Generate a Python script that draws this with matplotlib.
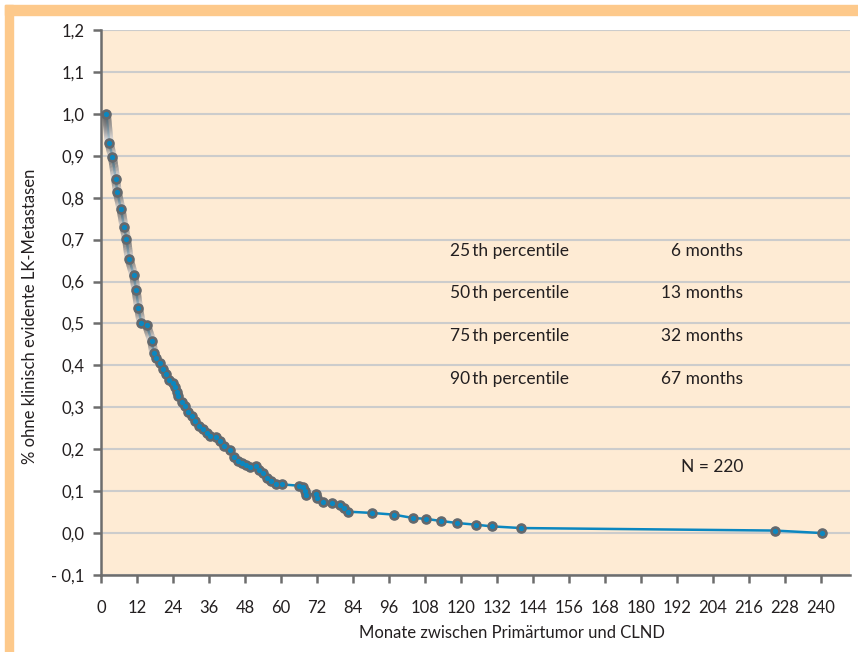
import matplotlib
matplotlib.use("Agg")
import matplotlib.pyplot as plt
from matplotlib.collections import LineCollection
from matplotlib.patches import Rectangle
from matplotlib.ticker import FuncFormatter, MultipleLocator
import numpy as np

# months between primary tumour and CLND, share without evident LK metastases
months = [1.8, 2.7, 3.8, 4.9, 5.4, 6.7, 7.7, 8.5, 9.4, 10.9, 11.7, 12.5, 13.4,
          15.2, 16.9, 17.6, 18.5, 19.6, 20.7, 21.6, 22.7, 24.1, 24.6, 25.2,
          25.7, 26.9, 28.0, 29.1, 30.2, 31.3, 32.7, 34.0, 35.4, 36.5, 38.5,
          39.6, 41.0, 42.9, 44.3, 45.7, 47.0, 48.5, 49.8, 51.6, 52.7, 54.0,
          55.4, 56.8, 58.5, 60.5, 66.0, 67.3, 67.9, 68.5, 71.6, 72.1, 74.0,
          77.1, 79.6, 81.0, 82.5, 90.4, 97.6, 104.0, 108.2, 113.2, 118.7,
          125.0, 130.3, 140.0, 224.6, 240.5]
share = [1.0, 0.931, 0.898, 0.845, 0.814, 0.772, 0.729, 0.702, 0.653, 0.616,
         0.579, 0.538, 0.501, 0.496, 0.459, 0.429, 0.417, 0.405, 0.391, 0.379,
         0.366, 0.358, 0.348, 0.337, 0.326, 0.313, 0.302, 0.290, 0.279, 0.268,
         0.256, 0.248, 0.239, 0.231, 0.229, 0.219, 0.207, 0.197, 0.181, 0.173,
         0.167, 0.163, 0.157, 0.161, 0.151, 0.144, 0.131, 0.125, 0.117, 0.116,
         0.113, 0.110, 0.101, 0.091, 0.094, 0.083, 0.075, 0.072, 0.067, 0.060,
         0.051, 0.048, 0.044, 0.036, 0.034, 0.029, 0.024, 0.020, 0.016, 0.012,
         0.006, 0.0]

pct_labels = ["25\u2009th percentile", "50\u2009th percentile",
              "75\u2009th percentile", "90\u2009th percentile"]
pct_values = ["6 months", "13 months", "32 months", "67 months"]
n_label = "N = 220"

plt.rcParams['font.family'] = ['Lato', 'DejaVu Sans']
text_col = '#231f20'
orange = '#fdc98b'
blue = '#0b87c0'
grey = '#64686c'

fig = plt.figure(figsize=(8.58, 6.52), dpi=100)
fig.patches.append(Rectangle((5/858, 1-15/652), 1, 10/652, transform=fig.transFigure,
                             color=orange, zorder=0))
fig.patches.append(Rectangle((5/858, 0), 8/858, 1-5/652, transform=fig.transFigure,
                             color=orange, zorder=0))

ax = fig.add_axes([101/858, 1-575/652, 749/858, 545/652])
ax.set_facecolor('#feebd4')
ax.set_xlim(0, 249.7)
ax.set_ylim(-0.1, 1.2)

ax.xaxis.set_major_locator(MultipleLocator(12))
ax.yaxis.set_major_locator(MultipleLocator(0.1))

def fmt_y(v, pos):
    s = f"{abs(v):.1f}".replace('.', ',')
    return ("- " + s) if v < -1e-9 else s

ax.yaxis.set_major_formatter(FuncFormatter(fmt_y))
ax.grid(axis='y', color='#cccccc', linewidth=1.5, zorder=0)
ax.set_axisbelow(True)

for sp in ['top', 'right']:
    ax.spines[sp].set_visible(False)
for sp in ['left', 'bottom']:
    ax.spines[sp].set_color('#6d6d6d')
    ax.spines[sp].set_linewidth(1.8)
ax.tick_params(axis='both', direction='out', length=6, width=1.8, color='#6d6d6d',
               labelsize=12, labelcolor=text_col, pad=6)
ax.tick_params(axis='x', pad=12)

# blue connecting line
ax.plot(months, share, color=blue, linewidth=1.8, zorder=3)

# fading grey trails on the steep part
x = np.array(months)
y = np.array(share)
segs = []
cols = []
for i in range(len(x) - 1):
    dxp = (x[i+1] - x[i]) * 3.0
    dyp = (y[i] - y[i+1]) * 420
    if dyp > 2 * dxp and dyp > 6:
        t = np.linspace(0, 1, 30)
        xs = x[i] + (x[i+1] - x[i]) * t
        ys = y[i] + (y[i+1] - y[i]) * t
        for k in range(len(t) - 1):
            segs.append([(xs[k], ys[k]), (xs[k+1], ys[k+1])])
            c = 0.38 + 0.58 * t[k] ** 1.6
            cols.append((c, c, c + 0.01, 1.0))
lc = LineCollection(segs, colors=cols, linewidths=6.4, capstyle='butt', zorder=4)
ax.add_collection(lc)

ax.plot(months, share, linestyle='none', marker='o', markersize=6.6,
        markerfacecolor=grey, markeredgecolor=grey, zorder=5)
ax.plot(months, share, linestyle='none', marker='o', markersize=2.7,
        markerfacecolor=blue, markeredgecolor=blue, zorder=6)

rows_y = [0.672, 0.572, 0.470, 0.368]
for lab, val, yy in zip(pct_labels, pct_values, rows_y):
    ax.text(136.3, yy, lab, ha='center', va='center', fontsize=12.5, color=text_col)
    ax.text(214.0, yy, val, ha='right', va='center', fontsize=12.5, color=text_col)
ax.text(214.0, 0.158, n_label, ha='right', va='center', fontsize=12.5, color=text_col)

fig.text(665/858, 1-633/652, "Monate zwischen Primärtumor und CLND",
         ha='right', va='center', fontsize=12, color=text_col)
fig.text(30/858, 1-316/652, "% ohne klinisch evidente LK-Metastasen",
         ha='center', va='center', rotation=90, fontsize=12, color=text_col)

fig.savefig('out.png', dpi=100)
